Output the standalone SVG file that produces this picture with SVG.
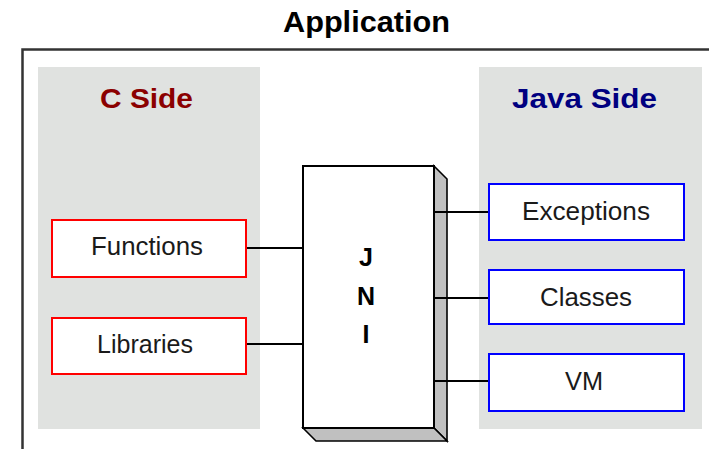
<svg xmlns="http://www.w3.org/2000/svg" width="709" height="449" viewBox="0 0 709 449">
<style>
.title{font-family:"Liberation Sans",Arial,sans-serif;font-weight:bold;font-size:29px;fill:#000}
.side{font-family:"Liberation Sans",Arial,sans-serif;font-weight:bold;font-size:28px}
.panel{fill:#e0e2e0}
.cbox{fill:#fff;stroke:#ff0000;stroke-width:2}
.jbox{fill:#fff;stroke:#0000ff;stroke-width:2}
.lbl{font-family:"Liberation Sans",Arial,sans-serif;font-size:25px;fill:#1a1a1a;text-anchor:middle}
.jni{font-family:"Liberation Sans",Arial,sans-serif;font-weight:bold;font-size:25px;fill:#000;text-anchor:middle}
.conn{stroke:#000;stroke-width:2;fill:none}
.edge{stroke:#000;stroke-width:1.6;stroke-linejoin:miter}
</style>
<rect width="709" height="449" fill="#fff"/>
<g id="application">
<text class="title" x="283" y="32" textLength="167" lengthAdjust="spacingAndGlyphs">Application</text>
<path d="M22.5 449 V49.5 H709" fill="none" stroke="#333" stroke-width="2.5"/>
</g>
<g id="c-side">
<rect class="panel" x="38" y="67" width="222" height="362"/>
<text class="side" x="100" y="108" fill="#8b0000" textLength="93" lengthAdjust="spacingAndGlyphs">C Side</text>
</g>
<g id="java-side">
<rect class="panel" x="479" y="67" width="223" height="362"/>
<text class="side" x="512" y="108" fill="#000080" textLength="145" lengthAdjust="spacingAndGlyphs">Java Side</text>
</g>
<g id="connectors">
<line class="conn" x1="246" y1="248" x2="303" y2="248"/>
<line class="conn" x1="246" y1="344" x2="303" y2="344"/>
</g>
<g id="jni">
<polygon points="434,166 447,179 447,441 434,428" fill="#c0c0c0" class="edge"/>
<polygon points="303,428 316,441 447,441 434,428" fill="#c0c0c0" class="edge"/>
<rect x="303" y="166" width="131" height="262" fill="#fff" stroke="#000" stroke-width="2"/>
<text class="jni" x="366" y="266">J</text>
<text class="jni" x="366" y="305">N</text>
<text class="jni" x="366" y="343">I</text>
</g>
<g id="connectors-right">
<line class="conn" x1="434" y1="212" x2="489" y2="212"/>
<line class="conn" x1="434" y1="298" x2="489" y2="298"/>
<line class="conn" x1="434" y1="381" x2="489" y2="381"/>
</g>
<g id="functions">
<rect class="cbox" x="52" y="220" width="194" height="57"/>
<text class="lbl" x="147" y="255" textLength="112" lengthAdjust="spacingAndGlyphs">Functions</text>
</g>
<g id="libraries">
<rect class="cbox" x="52" y="318" width="194" height="56"/>
<text class="lbl" x="145" y="353" textLength="96" lengthAdjust="spacingAndGlyphs">Libraries</text>
</g>
<g id="exceptions">
<rect class="jbox" x="489" y="184" width="195" height="56"/>
<text class="lbl" x="586" y="220" textLength="128" lengthAdjust="spacingAndGlyphs">Exceptions</text>
</g>
<g id="classes">
<rect class="jbox" x="489" y="270" width="195" height="54"/>
<text class="lbl" x="586" y="306" textLength="92" lengthAdjust="spacingAndGlyphs">Classes</text>
</g>
<g id="vm">
<rect class="jbox" x="489" y="354" width="195" height="57"/>
<text class="lbl" x="584" y="390" textLength="38" lengthAdjust="spacingAndGlyphs">VM</text>
</g>
</svg>
